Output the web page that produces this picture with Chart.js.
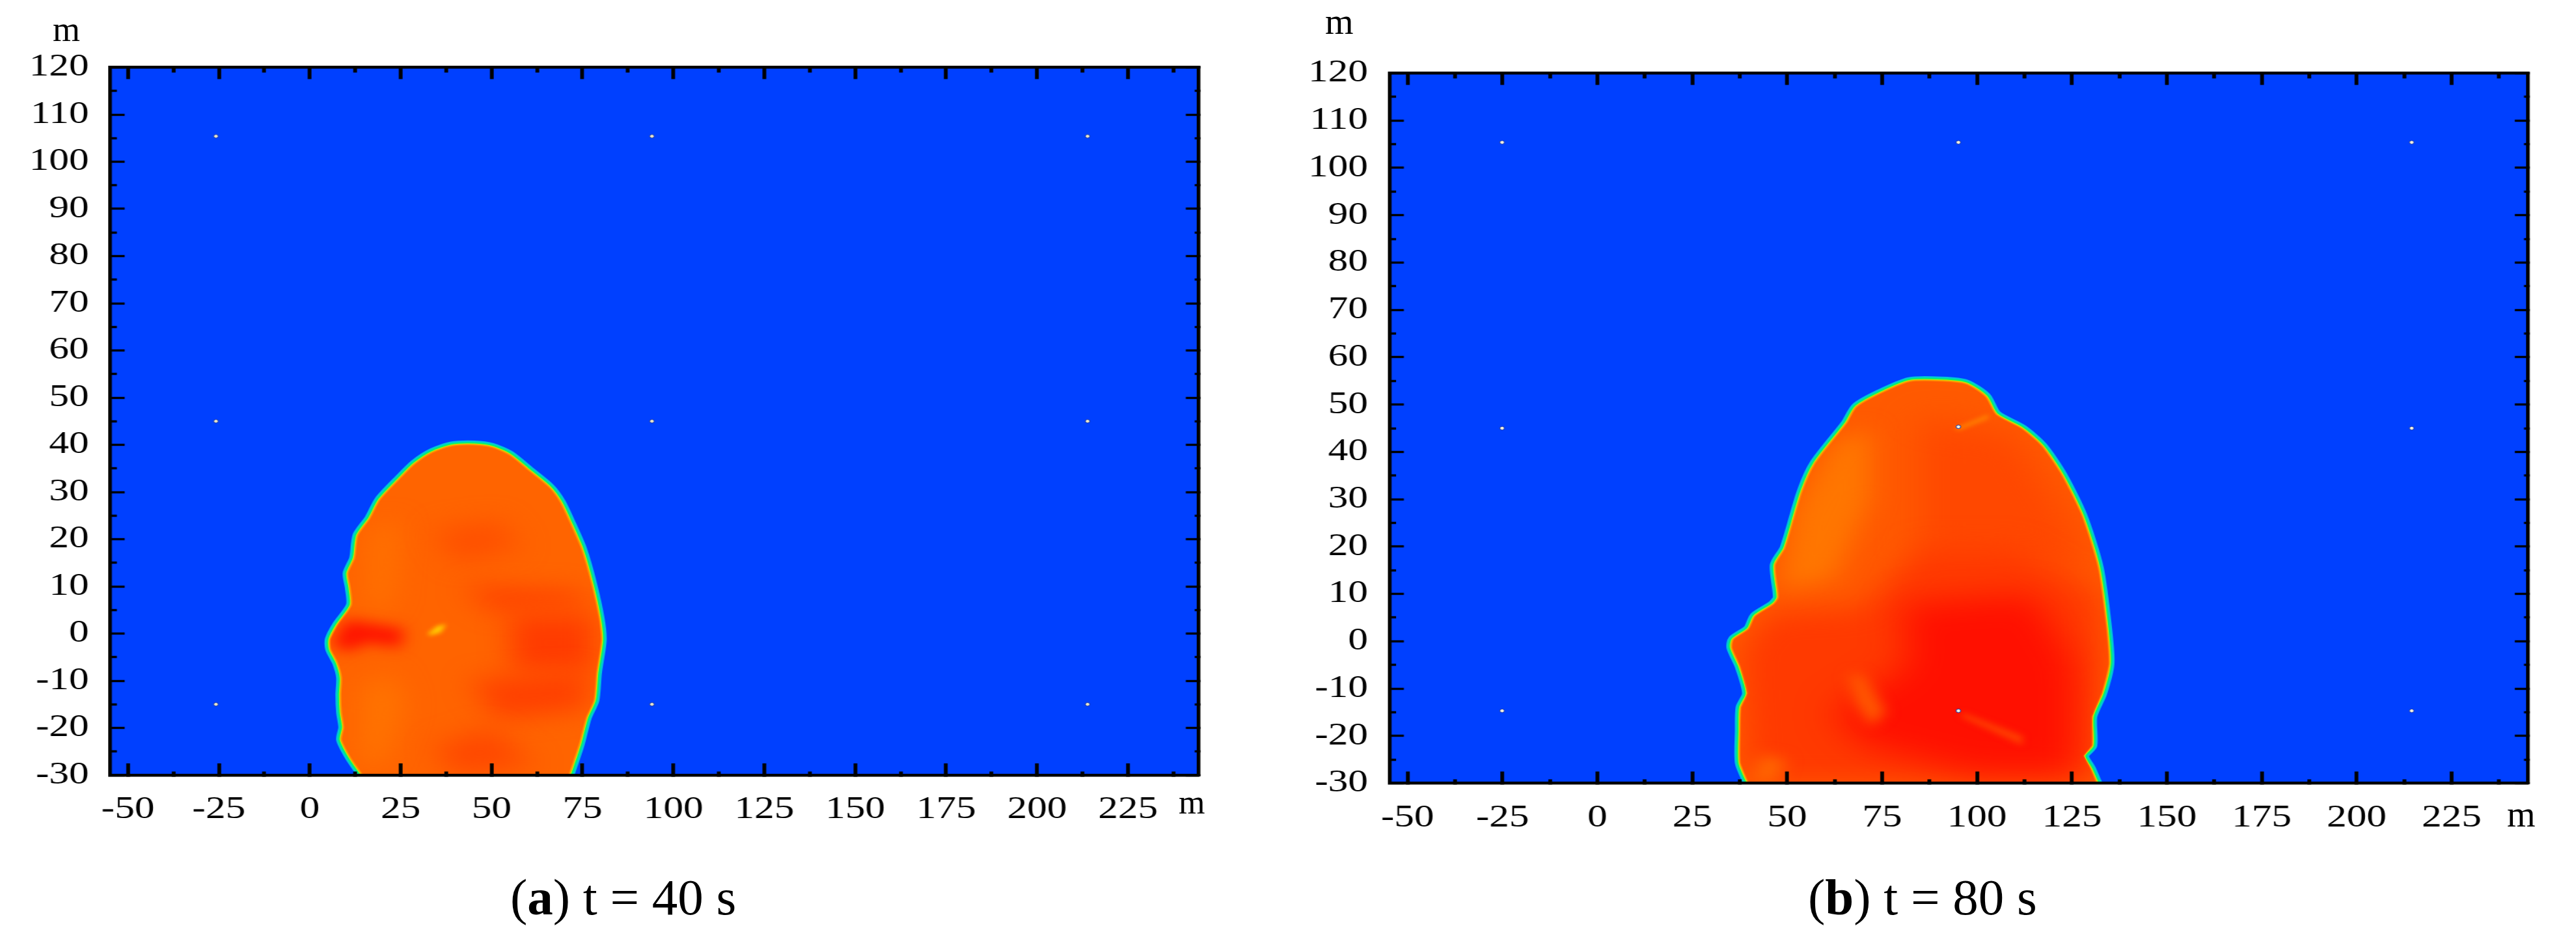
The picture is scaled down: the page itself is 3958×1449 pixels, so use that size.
<!DOCTYPE html>
<html>
<head>
<meta charset="utf-8">
<script src="https://cdn.jsdelivr.net/npm/chart.js@4/dist/chart.umd.min.js"></script>
<style>
  html, body { margin: 0; padding: 0; background: #fff; width: 3958px; height: 1449px; overflow: hidden; }
  canvas { position: absolute; top: 0; transform-origin: 0 0; transform: scaleX(1.25); }
  .txt { position: absolute; font-family: "Liberation Serif", serif; color: #000; line-height: 1; white-space: pre; }
</style>
</head>
<body>
<canvas id="painelA" width="1568" height="1449" style="left:0"></canvas>
<canvas id="painelB" width="1568" height="1449" style="left:1960px"></canvas>
<div class="txt" style="left:81px;top:18px;font-size:54px">m</div>
<div class="txt" style="left:1811px;top:1207px;font-size:52px">m</div>
<div class="txt" style="left:2036px;top:5px;font-size:56px">m</div>
<div class="txt" style="left:3852px;top:1223px;font-size:56px">m</div>
<div class="txt" style="left:784px;top:1339px;font-size:79px">(<b>a</b>) t = 40 s</div>
<div class="txt" style="left:2778px;top:1339px;font-size:79px">(<b>b</b>) t = 80 s</div>
<script>
// eixos (iguais nos dois paineis)
const xTicks = [-50, -37.5, -25, -12.5, 0, 12.5, 25, 37.5, 50, 62.5, 75, 87.5, 100, 112.5, 125, 137.5, 150, 162.5, 175, 187.5, 200, 212.5, 225, 237.5];
const yTicks = [120, 115, 110, 105, 100, 95, 90, 85, 80, 75, 70, 65, 60, 55, 50, 45, 40, 35, 30, 25, 20, 15, 10, 5, 0, -5, -10, -15, -20, -25, -30];

// limites
const xLimA = [-54.85, 244.5];
const xLimB = [-54.75, 245.1];
const yLim = [-30, 120];

// contorno da frente de fogo, t = 40 s
const fogoA = [[14.5, -30], [11.1, -26.2], [8.7, -22.5], [9.3, -19.9], [8.7, -16.7], [8.5, -13], [8.7, -9.3], [7.6, -6.2], [5.7, -3.3], [5.6, -1.2], [7.6, 1.8], [11.4, 6], [11.1, 9.7], [10.5, 12.8], [12.3, 16], [13.2, 20.8], [16.5, 24.4], [19.3, 28.4], [24.8, 32.9], [28.9, 36], [33.7, 38.4], [39.1, 39.8], [45.3, 40], [50.1, 39.5], [54.9, 37.9], [60.4, 34.5], [65.9, 31], [68.9, 27.9], [71.7, 23.4], [74.8, 17.9], [77.5, 10.7], [79.6, 3.3], [80.2, -1.4], [78.9, -8.3], [78.2, -14.1], [76.1, -17.8], [74.1, -23.6], [71.3, -30]];

// contorno da frente de fogo, t = 80 s
const fogoB = [[39.8, -30], [37.6, -25.7], [37.6, -18.9], [37.8, -14], [39.5, -11], [37.6, -5.4], [35.4, -1.4], [35.8, 0.4], [39.8, 2.6], [41.5, 5.3], [46.3, 7.8], [47.6, 9.3], [46.8, 16.1], [49.4, 19.7], [53.8, 31.4], [57.3, 37.6], [65.6, 46.1], [68.2, 49.5], [74.3, 52.3], [82.2, 54.9], [90.9, 55], [97.1, 54.4], [102.3, 51.7], [105.1, 47.9], [111.9, 44.9], [117.2, 41.2], [122.4, 35.1], [127.7, 26.5], [132, 15.5], [134.2, 2.6], [134.8, -4.8], [132.9, -11], [130.3, -15.9], [130.3, -22], [128.1, -24.2], [129.9, -26.9], [131.6, -30]];

// zonas internas de temperatura, t = 40 s
const zonasA = [
  { cor: '#ff7400', borrao: 18, pts: [[14, -28], [20, -28], [26, -15], [22, -8], [14, -12]] },
  { cor: '#ff7400', borrao: 18, pts: [[16, 5], [22, 6], [24, 24], [17, 22]] },
  { cor: '#ff5000', borrao: 18, pts: [[34, 22], [52, 24], [58, 18], [40, 15]] },
  { cor: '#ff4000', borrao: 18, pts: [[42, 10], [74, 9], [76, 6], [50, 5]] },
  { cor: '#ff3c00', borrao: 18, pts: [[55, 4], [78, 4], [78, -8], [56, -8]] },
  { cor: '#ff4000', borrao: 18, pts: [[44, -10], [76, -8], [76, -16], [52, -18]] },
  { cor: '#ff4800', borrao: 18, pts: [[34, -24], [50, -20], [62, -28], [40, -30]] },
  { cor: '#ff1500', borrao: 10, pts: [[6, -2], [10, 3], [26, 1], [25, -3], [16, -2], [10, -4]] },
  { cor: '#ffd000', borrao: 3, pts: [[32.5, 0], [35, 1.6], [37.5, 2], [36, 0.2], [33, -0.4]] }
];

// zonas internas de temperatura, t = 80 s
const zonasB = [
  { cor: '#ff4800', borrao: 24, pts: [[85, 47], [110, 44], [125, 25], [130, 15], [85, 18]] },
  { cor: '#ff3a00', borrao: 20, pts: [[40, -30], [38, -2], [45, 6], [70, 7], [85, 20], [110, 20], [132, 10], [133, 0], [130, -30]] },
  { cor: '#ff7600', borrao: 16, pts: [[48, 11], [62, 13], [72, 30], [72, 45], [62, 42], [52, 28]] },
  { cor: '#ff1000', borrao: 24, pts: [[80, 8], [115, 10], [126, -5], [126, -28], [100, -28], [70, -22], [62, -15], [82, -5]] },
  { cor: '#ff6400', borrao: 10, pts: [[40, -30], [47, -30], [50, -25], [43, -24]] },
  { cor: '#ff5800', borrao: 9, pts: [[66, -7], [70, -7], [76, -15], [72, -18], [68, -13]] },
  { cor: '#ff4000', borrao: 5, pts: [[96, -15], [112, -20], [112, -22], [96, -16]] },
  { cor: '#ff8000', borrao: 3, pts: [[94, 45], [103, 48], [103, 47], [95, 44.5]] }
];

// pontos de medicao (sensores)
const sensoresA = [[-25.8, 105.4], [94.1, 105.4], [213.9, 105.4], [-25.8, 45], [94.1, 45], [213.9, 45], [-25.8, -15], [94.1, -15], [213.9, -15]];
const sensoresB = [[-25.1, 105.4], [95.1, 105.4], [214.5, 105.4], [-25.1, 45], [95.1, 45.3], [214.5, 45], [-25.1, -14.7], [95.1, -14.7], [214.5, -14.7]];

const escalaX = 1.25;

function paraXY(lista) {
    return lista.map(p => ({ x: p[0], y: p[1] }));
}

// fundo azul do campo de temperatura
const pluginFundo = {
    id: 'fundo',
    beforeDatasetsDraw(chart) {
        const a = chart.chartArea;
        chart.ctx.fillStyle = '#0040ff';
        chart.ctx.fillRect(a.left, a.top, a.width, a.height);
    }
};

// zonas internas: borradas e recortadas pelo contorno do fogo
const pluginZonas = {
    id: 'zonas',
    beforeDatasetDraw(chart, args) {
        const ds = chart.data.datasets[args.index];
        if (!ds.borrao) return;
        const ctx = chart.ctx;
        ctx.save();
        ctx.beginPath();
        ds.recorte.forEach((p, i) => {
            const px = chart.scales.x.getPixelForValue(p[0]);
            const py = chart.scales.y.getPixelForValue(p[1]);
            if (i === 0) ctx.moveTo(px, py); else ctx.lineTo(px, py);
        });
        ctx.closePath();
        ctx.clip();
        ctx.filter = 'blur(' + ds.borrao + 'px)';
    },
    afterDatasetDraw(chart, args) {
        if (chart.data.datasets[args.index].borrao) chart.ctx.restore();
    }
};

// o filler precisa rodar depois do recorte, senao o preenchimento sai sem borrao
const filler = Chart.registry.plugins.get('filler');
Chart.unregister(filler);
Chart.register(pluginZonas, filler);

function linhaFogo(pts, cor, largura, preenche) {
    return {
        data: paraXY(pts),
        showLine: true,
        borderColor: cor,
        borderWidth: largura,
        backgroundColor: preenche || 'transparent',
        fill: preenche ? 'shape' : false,
        pointRadius: 0,
        borderJoinStyle: 'round',
        tension: 0.25
    };
}

function criarPainel(id, fogo, zonas, sensores, xLim, corBase, esquerda, direita, topo, base, corSensor) {
    const datasets = [];

    // degrade da borda: ciano, verde, amarelo e o interior laranja
    datasets.push(linhaFogo(fogo, '#00c8d8', 13));
    datasets.push(linhaFogo(fogo, '#00f070', 8));
    datasets.push(linhaFogo(fogo, '#c8f000', 4));
    datasets.push(linhaFogo(fogo, '#ff9000', 2, corBase));

    zonas.forEach(z => {
        datasets.push({
            data: paraXY(z.pts),
            showLine: true,
            borderWidth: 0,
            borderColor: z.cor,
            backgroundColor: z.cor,
            fill: 'shape',
            pointRadius: 0,
            borrao: z.borrao,
            recorte: fogo
        });
    });

    datasets.push({
        data: paraXY(sensores),
        showLine: false,
        pointRadius: 2.8,
        pointBorderWidth: 1,
        pointBorderColor: '#0a2fb0',
        pointBackgroundColor: corSensor
    });

    // o Chart.js desenha do ultimo para o primeiro
    datasets.reverse();

    // ticks maiores inteiros, menores so com um pedaco
    const tickX = (ctx) => ctx.tick && ctx.tick.value % 25 !== 0;
    const tickY = (ctx) => ctx.tick && ctx.tick.value % 10 !== 0;
    const comum = { drawOnChartArea: false, drawTicks: true, tickColor: '#000', z: 1 };
    const borda = { color: '#000', width: 4.5, z: 2 };

    new Chart(document.getElementById(id), {
        type: 'scatter',
        data: { datasets: datasets },
        options: {
            responsive: false,
            animation: false,
            layout: { padding: { left: 0, top: topo, right: 1568 - direita, bottom: 0 } },
            plugins: { legend: { display: false }, tooltip: { enabled: false }, title: { display: false } },
            scales: {
                x: {
                    type: 'linear', position: 'bottom', min: xLim[0], max: xLim[1],
                    border: borda,
                    grid: Object.assign({}, comum, {
                        tickLength: -18, tickWidth: 4.6,
                        tickBorderDash: (ctx) => tickX(ctx) ? [8, 100] : []
                    }),
                    afterBuildTicks: (eixo) => { eixo.ticks = xTicks.map(v => ({ value: v })); },
                    afterFit: (eixo) => { eixo.height = 1449 - base; },
                    ticks: {
                        autoSkip: false, maxRotation: 0, minRotation: 0, padding: 42,
                        color: '#000', font: { family: 'Liberation Serif', size: 49 },
                        callback: (v) => v % 25 === 0 ? String(v) : ''
                    }
                },
                xTopo: {
                    type: 'linear', axis: 'x', position: 'top', min: xLim[0], max: xLim[1],
                    border: borda,
                    grid: Object.assign({}, comum, {
                        tickLength: -18, tickWidth: 4.6,
                        tickBorderDash: (ctx) => tickX(ctx) ? [0, 10, 8, 100] : []
                    }),
                    afterBuildTicks: (eixo) => { eixo.ticks = xTicks.map(v => ({ value: v })); },
                    afterFit: (eixo) => { eixo.height = 0; },
                    ticks: { display: false }
                },
                y: {
                    type: 'linear', position: 'left', min: yLim[0], max: yLim[1],
                    border: borda,
                    grid: Object.assign({}, comum, {
                        tickLength: -17.6, tickWidth: 3.4,
                        tickBorderDash: (ctx) => tickY(ctx) ? [0, 9.6, 8, 100] : []
                    }),
                    afterBuildTicks: (eixo) => { eixo.ticks = yTicks.map(v => ({ value: v })); },
                    afterFit: (eixo) => { eixo.width = esquerda; },
                    ticks: {
                        autoSkip: false, padding: 44,
                        color: '#000', font: { family: 'Liberation Serif', size: 49 },
                        callback: (v) => v % 10 === 0 ? String(v) : ''
                    }
                },
                yDir: {
                    type: 'linear', axis: 'y', position: 'right', min: yLim[0], max: yLim[1],
                    border: borda,
                    grid: Object.assign({}, comum, {
                        tickLength: -16, tickWidth: 3.4,
                        tickBorderDash: (ctx) => tickY(ctx) ? [7, 100] : []
                    }),
                    afterBuildTicks: (eixo) => { eixo.ticks = yTicks.map(v => ({ value: v })); },
                    afterFit: (eixo) => { eixo.width = 0; },
                    ticks: { display: false }
                }
            }
        },
        plugins: [pluginFundo]
    });
}

// plot a: x de 169.5 a 1842, y de 103.5 a 1191
criarPainel('painelA', fogoA, zonasA, sensoresA, xLimA, '#ff6400', 169.5 / escalaX, 1842 / escalaX, 103.5, 1191, '#e8e4c8');
// plot b: x de 2135 a 3884, y de 112.5 a 1203.5
criarPainel('painelB', fogoB, zonasB, sensoresB, xLimB, '#ff5a00', (2135 - 1960) / escalaX, (3884 - 1960) / escalaX, 112.5, 1203.5, '#f4f0dc');
</script>
</body>
</html>
